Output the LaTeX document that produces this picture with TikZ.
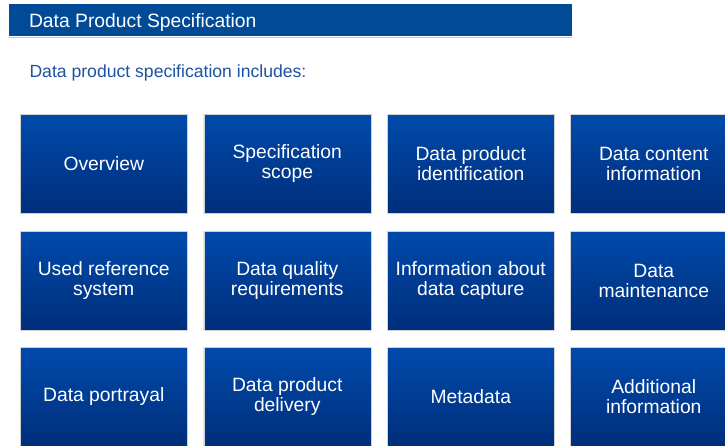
\documentclass[tikz,border=0pt]{standalone}
\usepackage{fontspec}
\setmainfont{Liberation Sans}
\definecolor{barblue}{RGB}{0,74,152}
\definecolor{boxtop}{RGB}{0,74,172}
\definecolor{boxbot}{RGB}{0,46,122}
\definecolor{subblue}{RGB}{28,82,160}

\begin{document}
\begin{tikzpicture}[x=1pt, y=-1pt,
		item/.style={anchor=north west, minimum width=167pt, minimum height=99pt,
			inner sep=0pt, top color=boxtop, bottom color=boxbot, draw=gray!35, line width=0.5pt,
			text=white, align=center, font=\fontsize{19.3}{20.5}\selectfont}]
			\useasboundingbox (0,0) rectangle (725,445);
			\clip (0,0) rectangle (725,445);
			\fill [barblue] (9,4) rectangle (572,36);
			\draw [blue!25, line width=1pt] (9,37.5) -- (572,37.5);
			\node [anchor=base west, white, font=\fontsize{19.3}{20}\selectfont] (title) at (25.5,27.5) {Data Product Specification};
			\node [anchor=base west, subblue, font=\fontsize{17.6}{20}\selectfont] (intro) at (26,77) {Data product specification includes:};
			% row 1
			\node [item] (overview) at (20,114) {Overview};
			\node [item] (scope) at (203.5,114) {Specification\\scope};
			\node [item] (ident) at (387,114) {Data product\\identification};
			\node [item] (content) at (570,114) {Data content\\information};
			% row 2
			\node [item] (refsys) at (20,231) {Used reference\\system};
			\node [item] (quality) at (203.5,231) {Data quality\\requirements};
			\node [item] (capture) at (387,231) {Information about\\data capture};
			\node [item] (maint) at (570,231) {Data\\maintenance};
			% row 3
			\node [item] (portrayal) at (20,347) {Data portrayal};
			\node [item] (delivery) at (203.5,347) {Data product\\delivery};
			\node [item] (meta) at (387,347) {Metadata};
			\node [item] (addinfo) at (570,347) {Additional\\information};
		\end{tikzpicture}
\end{document}
